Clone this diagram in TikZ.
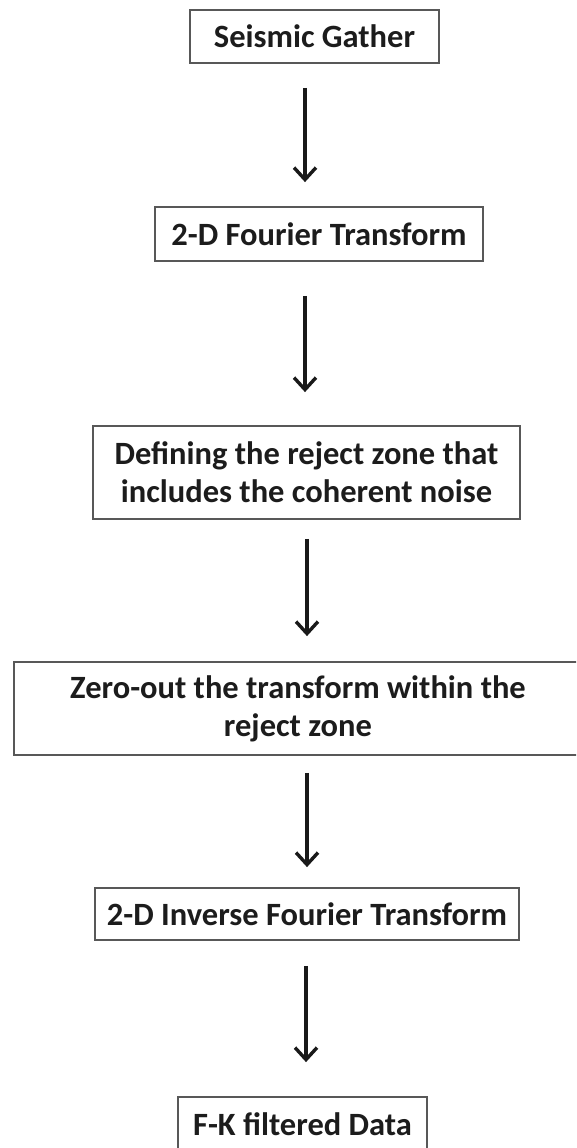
\documentclass[tikz,border=0pt]{standalone}
\usepackage{fontspec}
\setmainfont{Carlito}
\usetikzlibrary{arrows.meta}
\definecolor{boxline}{RGB}{88,88,88}
\definecolor{txt}{RGB}{28,28,28}
\tikzset{
  flowbox/.style={draw=boxline, line width=1.8pt, rectangle, inner sep=0pt,
    text=txt, align=center,
    font=\fontsize{32.5}{38}\selectfont\bfseries},
  arr/.style={draw=black!90, line width=3.2pt,
    -{Straight Barb[length=12pt,width=22pt,line width=3.4pt]}}
}
\begin{document}
\begin{tikzpicture}[x=1pt,y=-1pt]
\clip (0,0) rectangle (576,1148);
\fill[white] (0,0) rectangle (576,1148);
\node[flowbox, minimum width=249pt, minimum height=53pt] (b1) at (314.5,36.5) {Seismic Gather};
\node[flowbox, minimum width=328pt, minimum height=54pt] (b2) at (319,234) {2-D Fourier Transform};
\node[flowbox, minimum width=427pt, minimum height=93pt] (b3) at (306.5,472.5) {Defining the reject zone that\\includes the coherent noise};
\node[flowbox, minimum width=568pt, minimum height=93pt] (b4) at (298,708.5) {Zero-out the transform within the\\reject zone};
\node[flowbox, minimum width=424pt, minimum height=52pt] (b5) at (307,914) {2-D Inverse Fourier Transform};
\node[flowbox, minimum width=249pt, minimum height=54pt] (b6) at (302.5,1124) {F-K filtered Data};
\coordinate (x1) at (305,0);
\coordinate (x2) at (305,0);
\coordinate (x3) at (307,0);
\coordinate (x4) at (307,0);
\coordinate (x5) at (306,0);
\draw[arr, shorten <=24pt, shorten >=24pt] (b1.south -| x1) -- (b2.north -| x1);
\draw[arr, shorten <=34pt, shorten >=33pt] (b2.south -| x2) -- (b3.north -| x2);
\draw[arr, shorten <=19pt, shorten >=25pt] (b3.south -| x3) -- (b4.north -| x3);
\draw[arr, shorten <=17pt, shorten >=20pt] (b4.south -| x4) -- (b5.north -| x4);
\draw[arr, shorten <=25pt, shorten >=34pt] (b5.south -| x5) -- (b6.north -| x5);
\end{tikzpicture}
\end{document}
